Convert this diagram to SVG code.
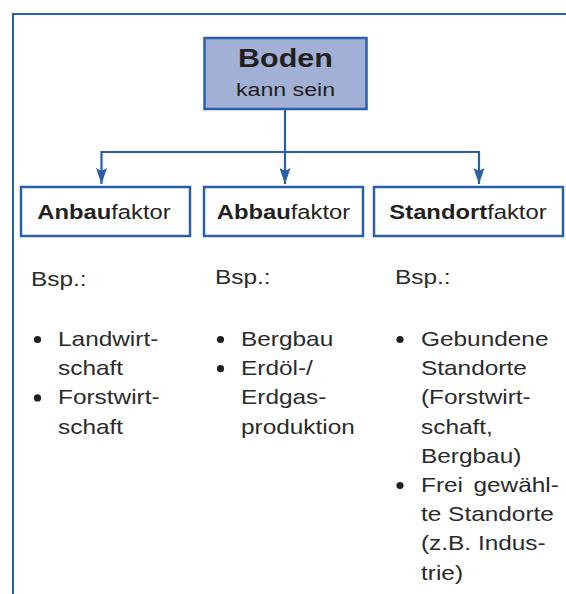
<svg xmlns="http://www.w3.org/2000/svg" width="566" height="594" viewBox="0 0 566 594">
<style>
text{font-family:"Liberation Sans",Arial,Helvetica,sans-serif;fill:#231f20;}
.body{font-size:20px;fill:#2b2b2b;}
.lbl{font-size:19.5px;text-anchor:middle;}
.box{fill:#ffffff;stroke:#2a5fa9;stroke-width:2.5;}
.root{fill:#a2b0d6;stroke:#2a5fa9;stroke-width:2.5;}
.conn{fill:none;stroke:#2a5fa9;stroke-width:2.2;}
.frame{fill:none;stroke:#2a5fa9;stroke-width:2;}
.dot{fill:#231f20;}
</style>
<defs>
<marker id="arr" viewBox="0 0 16 11" refX="16" refY="5.5" markerWidth="16" markerHeight="11" markerUnits="userSpaceOnUse" orient="auto">
<path d="M0,0 L16,5.5 L0,11 L3,5.5 Z" fill="#2a5fa9"/>
</marker>
</defs>
<rect width="566" height="594" fill="#ffffff"/>
<path class="frame" d="M13,600 V14 H570"/>
<g id="connectors">
<path class="conn" d="M285,109 V184" marker-end="url(#arr)"/>
<path class="conn" d="M285,152 H101.5 V184" marker-end="url(#arr)"/>
<path class="conn" d="M285,152 H479 V184" marker-end="url(#arr)"/>
</g>
<g id="boden">
<rect class="root" x="204.5" y="38" width="162" height="71"/>
<text transform="translate(285.5,67) scale(1.22,1)" font-size="25" font-weight="bold" text-anchor="middle">Boden</text>
<text transform="translate(285.5,96) scale(1.22,1)" font-size="19" text-anchor="middle" fill="#333">kann sein</text>
</g>
<g id="anbau">
<rect class="box" x="21" y="187" width="169" height="49"/>
<text class="lbl" transform="translate(104,219) scale(1.22,1)"><tspan font-weight="bold">Anbau</tspan>faktor</text>
</g>
<g id="abbau">
<rect class="box" x="204" y="187" width="159" height="49"/>
<text class="lbl" transform="translate(283.5,219) scale(1.22,1)"><tspan font-weight="bold">Abbau</tspan>faktor</text>
</g>
<g id="standort">
<rect class="box" x="374" y="187" width="189" height="49"/>
<text class="lbl" transform="translate(468,219) scale(1.22,1)"><tspan font-weight="bold">Standort</tspan>faktor</text>
</g>
<g id="bsp-anbau">
<text class="body" transform="translate(31,286) scale(1.22,1)">Bsp.:</text>
<circle class="dot" cx="37.5" cy="339.5" r="3.6"/>
<text class="body" transform="translate(58,346) scale(1.22,1)">Landwirt-</text>
<text class="body" transform="translate(58,375.2) scale(1.22,1)">schaft</text>
<circle class="dot" cx="37.5" cy="397.9" r="3.6"/>
<text class="body" transform="translate(58,404.4) scale(1.22,1)">Forstwirt-</text>
<text class="body" transform="translate(58,433.6) scale(1.22,1)">schaft</text>
</g>
<g id="bsp-abbau">
<text class="body" transform="translate(215,284) scale(1.22,1)">Bsp.:</text>
<circle class="dot" cx="220.5" cy="339.5" r="3.6"/>
<text class="body" transform="translate(241,346) scale(1.22,1)">Bergbau</text>
<circle class="dot" cx="220.5" cy="368.7" r="3.6"/>
<text class="body" transform="translate(241,375.2) scale(1.22,1)">Erdöl-/</text>
<text class="body" transform="translate(241,404.4) scale(1.22,1)">Erdgas-</text>
<text class="body" transform="translate(241,433.6) scale(1.22,1)">produktion</text>
</g>
<g id="bsp-standort">
<text class="body" transform="translate(395,284) scale(1.22,1)">Bsp.:</text>
<circle class="dot" cx="400" cy="339.5" r="3.6"/>
<text class="body" transform="translate(421,346) scale(1.22,1)">Gebundene</text>
<text class="body" transform="translate(421,375.2) scale(1.22,1)">Standorte</text>
<text class="body" transform="translate(421,404.4) scale(1.22,1)">(Forstwirt-</text>
<text class="body" transform="translate(421,433.6) scale(1.22,1)">schaft,</text>
<text class="body" transform="translate(421,462.8) scale(1.22,1)">Bergbau)</text>
<circle class="dot" cx="400" cy="485.5" r="3.6"/>
<text class="body" transform="translate(421,492) scale(1.22,1)">Frei <tspan dx="3">gewähl-</tspan></text>
<text class="body" transform="translate(421,521.2) scale(1.22,1)">te Standorte</text>
<text class="body" transform="translate(421,550.4) scale(1.22,1)">(z.B. Indus-</text>
<text class="body" transform="translate(421,579.6) scale(1.22,1)">trie)</text>
</g>
</svg>
